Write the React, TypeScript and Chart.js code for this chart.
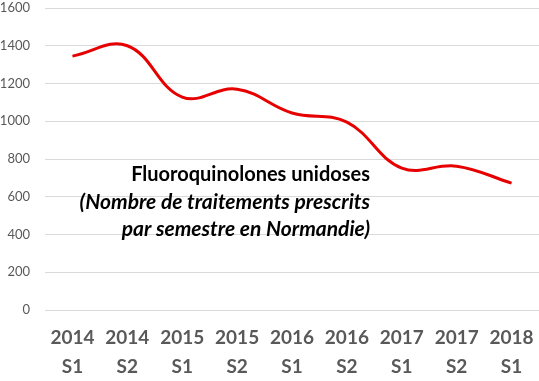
import React, { useEffect, useRef } from "react";
import { Chart, registerables } from "chart.js";

Chart.register(...registerables);

const years = ["2014", "2014", "2015", "2015", "2016", "2016", "2017", "2017", "2018"];
const semesters = ["S1", "S2", "S1", "S2", "S1", "S2", "S1", "S2", "S1"];
const values = [1345, 1400, 1128, 1170, 1044, 995, 752, 762, 672];
const yTicks = [0, 200, 400, 600, 800, 1000, 1200, 1400, 1600];
const noteLines = [
  "Fluoroquinolones unidoses",
  "(Nombre de traitements prescrits",
  "par semestre en Normandie)",
];

const notePlugin = {
  id: "note",
  afterDraw(chart: any) {
    const ctx = chart.ctx;
    ctx.save();
    ctx.fillStyle = "#000000";
    ctx.textAlign = "right";
    ctx.textBaseline = "middle";
    const x = 370;
    const ys = [175, 202, 229];
    noteLines.forEach((t, i) => {
      ctx.font = (i === 0 ? "bold 20px " : "italic bold 21px ") + "Lato, 'Open Sans', sans-serif";
      ctx.fillText(t, x, ys[i]);
    });
    ctx.restore();
  },
};

export default function App() {
  const ref = useRef<HTMLCanvasElement>(null);
  useEffect(() => {
    document.body.style.margin = "0";
    const labels = years.map((y, i) => [y, semesters[i]]);
    const chart = new Chart(ref.current!, {
      type: "line",
      data: {
        labels,
        datasets: [
          {
            data: values,
            borderColor: "#e60000",
            borderWidth: 3,
            pointRadius: 0,
            tension: 0.4,
            fill: false,
          },
        ],
      },
      options: {
        animation: false,
        responsive: false,
        layout: { padding: { top: 8, right: 0, left: 0, bottom: 0 } },
        plugins: { legend: { display: false }, tooltip: { enabled: false } },
        scales: {
          x: {
            offset: true,
            grid: { display: false, drawTicks: false },
            border: { display: false },
            ticks: {
              color: "#595959",
              font: { family: "Lato, 'Open Sans', sans-serif", size: 19, weight: "bold", lineHeight: 1.5 },
              padding: 14,
              maxRotation: 0,
              autoSkip: false,
            },
            afterFit(scale: any) {
              scale.height = 71;
              scale.paddingLeft = 0;
              scale.paddingRight = 0;
            },
          },
          y: {
            min: 0,
            max: 1600,
            afterBuildTicks(scale: any) {
              scale.ticks = yTicks.map((v) => ({ value: v }));
            },
            grid: { color: "#d9d9d9", drawTicks: false, lineWidth: 1 },
            border: { display: false },
            ticks: {
              color: "#595959",
              font: { family: "Lato, 'Open Sans', sans-serif", size: 13 },
              padding: 15,
              callback: (v: any) => String(v),
            },
            afterFit(scale: any) {
              scale.width = 45;
              scale.paddingTop = 8;
              scale.paddingBottom = 0;
            },
          },
        },
      },
      plugins: [notePlugin],
    });
    return () => chart.destroy();
  }, []);
  return (
    <div style={{ position: "fixed", left: 0, top: 0, width: 539, height: 381 }}>
      <canvas ref={ref} width={539} height={381} style={{ width: 539, height: 381 }} />
    </div>
  );
}
